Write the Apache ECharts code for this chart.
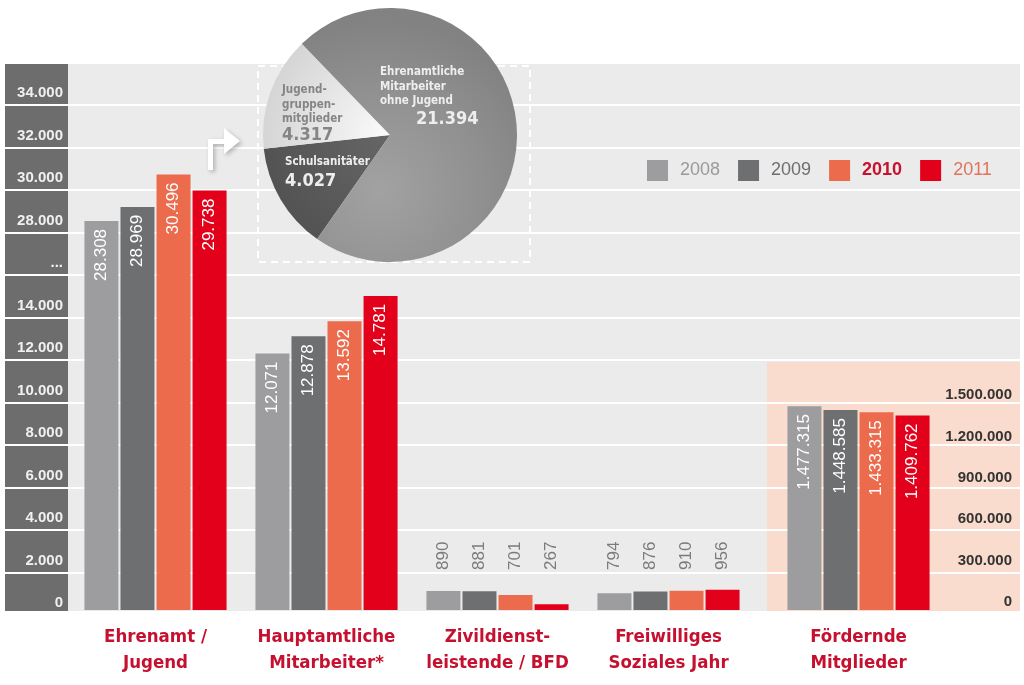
<!DOCTYPE html>
<html><head><meta charset="utf-8">
<script src="https://cdn.jsdelivr.net/npm/echarts@6/dist/echarts.min.js"></script>
<style>html,body{margin:0;padding:0;background:#fff}#c{width:1024px;height:685px}</style>
</head><body><div id="c"></div>
<script>
// ---------------- data ----------------
const categories = ['Ehrenamt /\nJugend', 'Hauptamtliche\nMitarbeiter*', 'Zivildienst-\nleistende / BFD', 'Freiwilliges\nSoziales Jahr'];
const fmCategory = ['Fördernde\nMitglieder'];
const years = ['2008', '2009', '2010', '2011'];
const v2008 = [28308, 12071, 890, 794];
const v2009 = [28969, 12878, 881, 876];
const v2010 = [30496, 13592, 701, 910];
const v2011 = [29738, 14781, 267, 956];
const fm2008 = [1477315];
const fm2009 = [1448585];
const fm2010 = [1433315];
const fm2011 = [1409762];
const pieNames = ['Schulsanitäter', 'Jugendgruppenmitglieder', 'Ehrenamtliche Mitarbeiter ohne Jugend'];
const pieValues = [4027, 4317, 21394];
const leftTickLabels = ['0', '2.000', '4.000', '6.000', '8.000', '10.000', '12.000', '14.000', '...', '28.000', '30.000', '32.000', '34.000'];
const rightTickLabels = ['0', '300.000', '600.000', '900.000', '1.200.000', '1.500.000'];

// ---------------- layout / style ----------------
const BREAK_FROM = 20000, BREAK_SHIFT = 10000;   // axis break: 16.000 .. 26.000 collapsed
const PX = 42.5 / 2000;                           // pixels per unit (left axis)
const colors = { '2008': '#9d9d9f', '2009': '#6e6f71', '2010': '#ec6b4d', '2011': '#e2001a' };
const legendText = { '2008': ['#9a9a9a', 'normal'], '2009': ['#6e6e6e', 'normal'], '2010': ['#c4122f', 'bold'], '2011': ['#e0735e', 'normal'] };
const COND = "'DejaVu Sans Condensed','Liberation Sans Narrow','DejaVu Sans',sans-serif";
const SANS = "'Liberation Sans',Arial,sans-serif";
const RED = '#c5112f';

const raw = { '2008': v2008, '2009': v2009, '2010': v2010, '2011': v2011 };
const rawFm = { '2008': fm2008, '2009': fm2009, '2010': fm2010, '2011': fm2011 };
const fmt = n => String(n).replace(/\B(?=(\d{3})+(?!\d))/g, '.');
const eff = v => v > BREAK_FROM ? v - BREAK_SHIFT : v;

const maxA = 553 / PX, maxB = 548 / PX, maxC = 548 / 207 * 1500000;

const whiteLabel = { show: true, position: 'insideTop', distance: 8, rotate: 90, align: 'right', verticalAlign: 'middle',
  color: '#ffffff', fontSize: 17, fontFamily: SANS, textBorderWidth: 0 };
const grayLabel = { show: true, position: 'insideBottom', distance: 40, rotate: 90, align: 'left', verticalAlign: 'middle',
  color: '#7b7b7b', fontSize: 17, fontFamily: SANS, textBorderWidth: 0 };

const series = [];
years.forEach(y => {
  series.push({
    name: y, type: 'bar', xAxisIndex: 1, yAxisIndex: 1, barWidth: 34, barGap: '6%',
    itemStyle: { color: colors[y] },
    label: { formatter: p => fmt(raw[y][p.dataIndex]) },
    data: raw[y].map((v, i) => ({ value: eff(v), label: Object.assign({}, i < 2 ? whiteLabel : grayLabel) })),
    silent: true
  });
});
years.forEach(y => {
  series.push({
    name: y, type: 'bar', xAxisIndex: 2, yAxisIndex: 2, barWidth: 34, barGap: '6%',
    itemStyle: { color: colors[y] },
    label: Object.assign({}, whiteLabel, { formatter: p => fmt(rawFm[y][p.dataIndex]) }),
    data: rawFm[y], silent: true
  });
});

const G = (x, y, r, stops) => new echarts.graphic.RadialGradient(x, y, r, stops, true);
const pieFills = [
  G(390, 135, 127, [{ offset: 0, color: '#666666' }, { offset: 1, color: '#535353' }]),
  G(390, 135, 127, [{ offset: 0, color: '#fbfbfb' }, { offset: 1, color: '#d5d5d5' }]),
  G(380, 190, 170, [{ offset: 0, color: '#a2a2a2' }, { offset: 0.6, color: '#909090' }, { offset: 1, color: '#828282' }])
];
const pieLabelText = [
  '{nw|Schulsanitäter}\n{vSc|' + fmt(pieValues[0]) + '}',
  '{nd|Jugend-}\n{nd|gruppen-}\n{nd|mitglieder}\n{vJu|' + fmt(pieValues[1]) + '}',
  '{nw|Ehrenamtliche}\n{nw|Mitarbeiter}\n{nw|ohne Jugend}\n{vEh|' + fmt(pieValues[2]) + '}'
];
const pieLabelPos = [[285, 155], [282, 83], [380, 65]];

series.push({
  type: 'pie', center: [390, 135], radius: 127, startAngle: 235, clockwise: true, silent: true, z: 3,
  itemStyle: { borderWidth: 0 },
  label: {
    show: true, position: 'inside', formatter: p => pieLabelText[p.dataIndex], textBorderWidth: 0,
    rich: {
      nw: { color: '#eeeeee', fontSize: 11.5, lineHeight: 14.5, fontWeight: 'bold', fontFamily: COND },
      nd: { color: '#858585', fontSize: 11.5, lineHeight: 14.5, fontWeight: 'bold', fontFamily: COND },
      vEh: { color: '#eeeeee', fontSize: 18, lineHeight: 22, fontWeight: 'bold', fontFamily: COND, padding: [0, 0, 0, 36] },
      vJu: { color: '#858585', fontSize: 18, lineHeight: 17, fontWeight: 'bold', fontFamily: COND },
      vSc: { color: '#eeeeee', fontSize: 18, lineHeight: 24, fontWeight: 'bold', fontFamily: COND }
    }
  },
  labelLine: { show: false },
  labelLayout: p => ({ x: pieLabelPos[p.dataIndex][0], y: pieLabelPos[p.dataIndex][1], align: 'left', verticalAlign: 'top' }),
  data: pieNames.map((n, i) => ({ name: n, value: pieValues[i], itemStyle: { color: pieFills[i] } }))
});

const catLabel = { interval: 0, margin: 14, color: RED, fontSize: 18.5, fontWeight: 'bold', lineHeight: 26, fontFamily: COND };

const option = {
  animation: false,
  backgroundColor: '#ffffff',
  grid: [
    { left: 5, right: 4, top: 62, bottom: 70, outerBoundsMode: 'none' },
    { left: 70, width: 684, top: 62, bottom: 75, outerBoundsMode: 'none' },
    { left: 767, width: 183, top: 62, bottom: 75, outerBoundsMode: 'none' }
  ],
  xAxis: [
    { gridIndex: 0, type: 'value', min: 0, max: 1, show: false },
    { gridIndex: 1, type: 'category', data: categories, axisLine: { show: false }, axisTick: { show: false }, axisLabel: catLabel, splitLine: { show: false } },
    { gridIndex: 2, type: 'category', data: fmCategory, axisLine: { show: false }, axisTick: { show: false }, axisLabel: catLabel, splitLine: { show: false } }
  ],
  yAxis: [
    { gridIndex: 0, type: 'value', min: 0, max: maxA, interval: 2000, axisLabel: { show: false }, axisLine: { show: false }, axisTick: { show: false },
      splitLine: { show: true, showMaxLine: false, showMinLine: false, lineStyle: { color: '#ffffff', width: 2 } } },
    { gridIndex: 1, type: 'value', position: 'left', min: 0, max: maxB, interval: 2000, axisLine: { show: false }, axisTick: { show: false }, splitLine: { show: false },
      axisLabel: { margin: 7, color: '#f0f0f0', fontSize: 15, fontWeight: 'bold', fontFamily: SANS, verticalAlign: 'bottom', lineHeight: 14, showMaxLabel: false,
        formatter: v => { const i = Math.round(v / 2000); return Math.abs(v - i * 2000) < 1 && leftTickLabels[i] !== undefined ? leftTickLabels[i] : ''; } } },
    { gridIndex: 2, type: 'value', position: 'right', min: 0, max: maxC, interval: 300000, axisLine: { show: false }, axisTick: { show: false }, splitLine: { show: false },
      axisLabel: { margin: 62, align: 'right', color: '#333333', fontSize: 15, fontWeight: 'bold', fontFamily: SANS, verticalAlign: 'bottom', lineHeight: 16, showMaxLabel: false,
        formatter: v => { const i = Math.round(v / 300000); return Math.abs(v - i * 300000) < 1 && rightTickLabels[i] !== undefined ? rightTickLabels[i] : ''; } } }
  ],
  legend: {
    left: 647, top: 160, padding: 0, itemWidth: 21, itemHeight: 21, itemGap: 18, icon: 'rect', selectedMode: false,
    textStyle: { fontSize: 18, fontFamily: SANS, padding: [0, 0, 0, 7] },
    data: years.map(y => ({ name: y, itemStyle: { color: colors[y] }, textStyle: { color: legendText[y][0], fontWeight: legendText[y][1] } }))
  },
  graphic: [
    { type: 'rect', z: -10, silent: true, shape: { x: 68, y: 63, width: 952, height: 548 }, style: { fill: '#ebebeb' } },
    { type: 'rect', z: -9, silent: true, shape: { x: 5, y: 63, width: 63, height: 548 }, style: { fill: '#6d6d6d' } },
    { type: 'rect', z: -9, silent: true, shape: { x: 767, y: 362, width: 253, height: 249 }, style: { fill: '#f9dccd' } },
    { type: 'rect', z: 1, silent: true, shape: { x: 258, y: 66, width: 272, height: 196 }, style: { fill: 'none', stroke: '#ffffff', lineWidth: 2, lineDash: [7, 5] } },
    { type: 'polygon', z: 1, silent: true,
      shape: { points: [[208, 170], [208, 139], [224, 139], [224, 128], [240, 141], [224, 154], [224, 144], [213, 144], [213, 170]] },
      style: { fill: '#ffffff', shadowBlur: 4, shadowColor: 'rgba(0,0,0,0.25)', shadowOffsetX: 2, shadowOffsetY: 2 } }
  ],
  series: series
};

echarts.init(document.getElementById('c'), null, { renderer: 'canvas' }).setOption(option);
</script>
</body></html>
